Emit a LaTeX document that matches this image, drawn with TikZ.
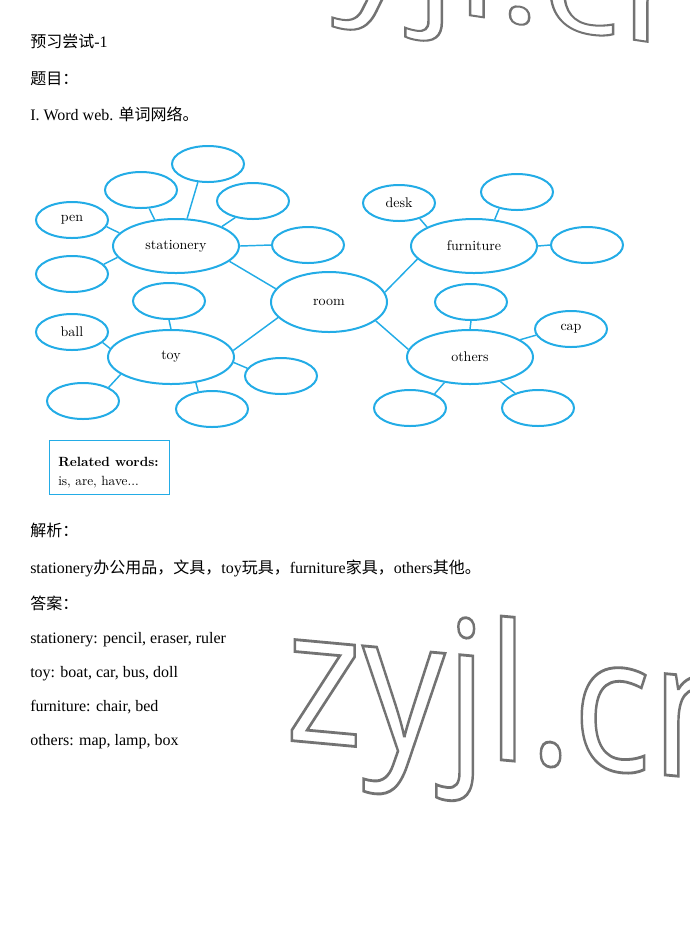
\documentclass[tikz,border=0pt]{standalone}
\usepackage{fontspec}
\setmainfont{Liberation Serif}
\newfontfamily\cjk{Noto Sans CJK SC}
\newfontfamily\lmr{Latin Modern Roman}
\newfontfamily\wmfont{Open Sans}
\usetikzlibrary{shapes.geometric}
\definecolor{webblue}{RGB}{35,172,230}
\definecolor{wmgray}{RGB}{115,115,115}
\newcommand{\hollow}[1]{\special{pdf:literal 1 Tr 2.1 w}#1\special{pdf:literal 0 Tr}}

\begin{document}
\begin{tikzpicture}[x=0.75pt, y=-0.75pt,
    hub/.style={ellipse, draw=webblue, line width=1.5pt, minimum width=94.5pt, minimum height=40.5pt, inner sep=0pt, font=\lmr\fontsize{10.5}{12}\selectfont},
    leaf/.style={hub, minimum width=54pt, minimum height=27pt},
    link/.style={webblue, line width=1.1pt},
    body/.style={anchor=base west, inner sep=0pt, font=\fontsize{12}{14}\selectfont},
    wmark/.style={anchor=base west, inner sep=0pt, text=wmgray, font=\wmfont\fontsize{142}{142}\selectfont, xscale=0.87, transform shape}]
    \useasboundingbox (0,0) rectangle (690,951);

    % watermark
    \begin{scope}[shift={(254,-17)}]
        \node[wmark, yslant=-0.13, yscale=0.72] (wmtop) at (0,0) {\hollow{zyjl.cn}};
    \end{scope}
    \begin{scope}[shift={(285,740)}]
        \node[wmark, yslant=-0.08] (wmlow) at (0,0) {\hollow{zyjl.cn}};
    \end{scope}

    % text above
    \node[body] (title) at (30,47) {{\cjk 预习尝试}-1};
    \node[body] (quest) at (30,84) {\cjk 题目：};
    \node[body] (task) at (30,120) {I. Word web. {\cjk 单词网络。}};

    % word web
    \node[hub, minimum width=87pt, minimum height=45pt] (room) at (329,302) {room};
    \node[hub] (stat) at (176,246) {stationery};
    \node[hub] (furn) at (474,246) {furniture};
    \node[hub] (toy) at (171,357) {toy};
    \node[hub] (oth) at (470,357) {others};

    \node[leaf] (pen) at (72,220) {pen};
    \node[leaf] (statul) at (141,190) {};
    \node[leaf] (stattop) at (208,164) {};
    \node[leaf] (statur) at (253,201) {};
    \node[leaf] (statr) at (308,245) {};
    \node[leaf] (statll) at (72,274) {};

    \node[leaf] (desk) at (399,203) {desk};
    \node[leaf] (furnur) at (517,192) {};
    \node[leaf] (furnr) at (587,245) {};

    \node[leaf] (toyup) at (169,301) {};
    \node[leaf] (ball) at (72,332) {ball};
    \node[leaf] (toyll) at (83,401) {};
    \node[leaf] (toylow) at (212,409) {};
    \node[leaf] (toyr) at (281,376) {};

    \node[leaf] (othup) at (471,302) {};
    \node[leaf] (cap) at (571,329) {cap};
    \node[leaf] (othll) at (410,408) {};
    \node[leaf] (othlr) at (538,408) {};

    \foreach \a/\b in {stat.167/pen.349, stat.129/statul.294, stat.68/stattop.241,
        stat.23/statur.223, stat.0/statr.180, stat.191/statll.17, stat.344/room.166,
        furn.158/desk.323, furn.52/furnur.223, furn.0/furnr.180, furn.193/room.10,
        toy.90/toyup.270, toy.172/ball.341, toy.199/toyll.28, toy.314/toylow.128,
        toy.355/toyr.167, toy.6/room.197,
        oth.90/othup.270, oth.19/cap.190, oth.225/othll.30, oth.321/othlr.147, oth.173/room.338}
        \draw[link] (\a) -- (\b);

    \node[draw=webblue, line width=0.9pt, minimum width=90pt, minimum height=40.5pt, inner sep=0pt] (relbox) at (109.5,467.5) {};
    \node[anchor=base west, inner sep=0pt, font=\lmr\bfseries\fontsize{10}{12}\selectfont] (relhead) at (58,466) {Related words:};
    \node[anchor=base west, inner sep=0pt, font=\lmr\fontsize{10}{12}\selectfont] (reltext) at (58,485) {is, are, have...};

    % text below
    \node[body] (ana) at (30,536) {\cjk 解析：};
    \node[body] (anatext) at (30,573) {stationery{\cjk 办公用品，文具，}toy{\cjk 玩具，}furniture{\cjk 家具，}others{\cjk 其他。}};
    \node[body] (ans) at (30,609) {\cjk 答案：};
    \node[body] (ans1) at (30,643) {stationery: pencil, eraser, ruler};
    \node[body] (ans2) at (30,677) {toy: boat, car, bus, doll};
    \node[body] (ans3) at (30,711) {furniture: chair, bed};
    \node[body] (ans4) at (30,745) {others: map, lamp, box};
\end{tikzpicture}
\end{document}
